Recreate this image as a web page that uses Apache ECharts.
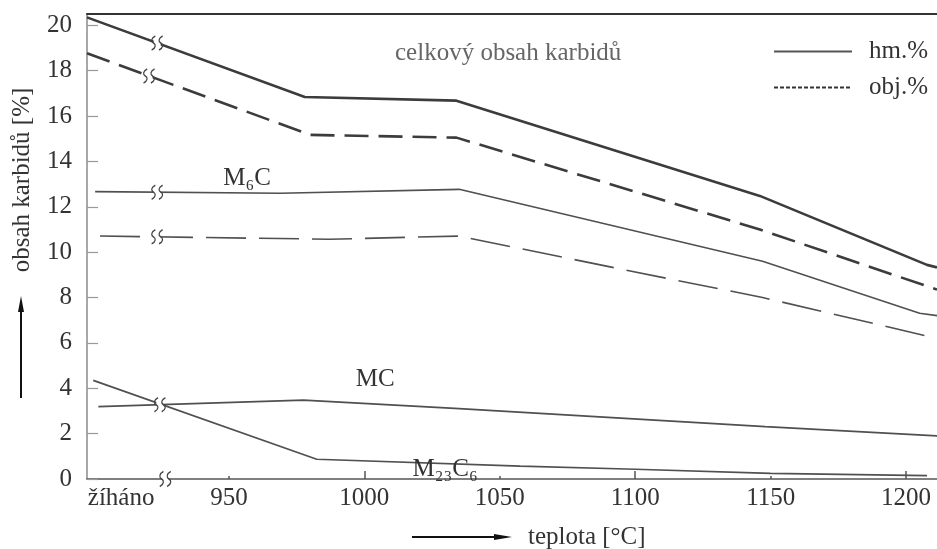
<!DOCTYPE html>
<html>
<head>
<meta charset="utf-8">
<script src="https://cdn.jsdelivr.net/npm/echarts@6/dist/echarts.min.js"></script>
<style>html,body{margin:0;padding:0;background:#fff}#c{width:937px;height:549px}</style>
</head>
<body>
<div id="c"></div>
<script>
// ---- data (x = temperature °C, "žíháno" = annealed state at left) ----
const totalHm  = [[897.6,20.35],[978,16.84],[1034,16.68],[1146,12.48],[1207.7,9.44],[1211.4,9.33]];
const totalObj = [[897.6,18.77],[980,15.17],[1034,15.05],[1146,11.0],[1211.4,8.35]];
const m6cHm    = [[900.6,12.67],[969,12.6],[1035,12.77],[1147,9.6],[1205,7.31],[1211.4,7.2]];
const m6cObj   = [[902.4,10.71],[987,10.57],[1035,10.71],[1094,9.27],[1147,8.0],[1211.4,6.2]];
const mcHm     = [[901.8,3.19],[977.5,3.48],[1035,3.1],[1148,2.31],[1211.4,1.9]];
const m23c6Hm  = [[899.9,4.35],[982.4,0.87],[1057.5,0.57],[1100,0.43],[1150,0.25],[1207.7,0.15]];

const xTickValues = [950, 1000, 1050, 1100, 1150, 1200];
const xMajorTicks = [1000, 1100, 1200];
const xMinorTicks = [950, 1050, 1150];
const annealedLabel = 'žíháno';
const annealedLabelPos = 910.2;
const yTicks = [0, 2, 4, 6, 8, 10, 12, 14, 16, 18, 20];
const breakX = 923.5;

const seriesLabels = { m6c: 'M₆C', mc: 'MC', m23c6: 'M₂₃C₆' };
const titleText = 'celkový obsah karbidů';
const yName = 'obsah karbidů [%]';
const xName = 'teplota [°C]';
const legendNames = ['hm.%', 'obj.%'];

// ---- helpers ----
function interp(arr, x) {
  for (let i = 0; i < arr.length - 1; i++) {
    const a = arr[i], b = arr[i + 1];
    if (x >= a[0] && x <= b[0]) return a[1] + (b[1] - a[1]) * (x - a[0]) / (b[0] - a[0]);
  }
  return arr[0][1];
}
const FONT = 'Liberation Serif, Times New Roman, serif';
const breakPath = 'path://M3.5,0 C0.5,1.5 0.5,4 2.2,5 C4,6 4,8.5 1,10 M8.5,0 C5.5,1.5 5.5,4 7.2,5 C9,6 9,8.5 6,10';
function breakMarks(arr, xv) {
  const y = interp(arr, xv);
  return [
    { coord: [xv, y], symbol: 'rect', symbolSize: [7, 9], itemStyle: { color: '#fff', borderWidth: 0 } },
    { coord: [xv, y], symbol: breakPath, symbolSize: [11, 14], itemStyle: { color: 'rgba(0,0,0,0)', borderColor: '#444', borderWidth: 1.4 } }
  ];
}
function mk(data) {
  return { silent: true, animation: false, label: { show: false }, data: data };
}
function labelMark(coord, text) {
  return {
    coord: coord, symbol: 'circle', symbolSize: 0,
    label: { show: true, position: 'inside', formatter: text, fontFamily: FONT, fontSize: 25, color: '#333' }
  };
}

const chart = echarts.init(document.getElementById('c'), null, { renderer: 'canvas' });
const base = { type: 'line', symbol: 'none', showSymbol: false, smooth: false, xAxisIndex: 0, yAxisIndex: 0, animation: false, silent: true };

chart.setOption({
  animation: false,
  backgroundColor: '#fff',
  title: {
    text: titleText, left: 390, top: 36,
    textStyle: { fontFamily: FONT, fontSize: 25, fontWeight: 'normal', color: '#666' }
  },
  legend: {
    data: legendNames, orient: 'vertical', left: 768, top: 34,
    itemWidth: 78, itemHeight: 14, itemGap: 11,
    itemStyle: { color: 'rgba(0,0,0,0)', borderColor: 'rgba(0,0,0,0)', borderWidth: 0, opacity: 0 },
    textStyle: { fontFamily: FONT, fontSize: 25, color: '#333', padding: [0, 0, 0, 12] }
  },
  grid: { left: 87, right: 0, top: 14, bottom: 70, containLabel: false },
  xAxis: [
    {
      type: 'value', min: 897.6, max: 1211.4, position: 'bottom',
      axisLine: { show: true, onZero: false, lineStyle: { color: '#555', width: 1.5 } },
      axisTick: { show: true, inside: true, length: 8, customValues: xMajorTicks, lineStyle: { color: '#555', width: 1.5 } },
      axisLabel: {
        show: true, margin: 7, customValues: [annealedLabelPos].concat(xTickValues),
        formatter: v => (v < 940 ? annealedLabel : String(Math.round(v))),
        fontFamily: FONT, fontSize: 25, color: '#333'
      },
      splitLine: { show: false }
    },
    {
      type: 'value', min: 897.6, max: 1211.4, position: 'bottom',
      axisLine: { show: false },
      axisTick: { show: true, inside: true, length: 3, customValues: xMinorTicks, lineStyle: { color: '#555', width: 1.5 } },
      axisLabel: { show: false },
      splitLine: { show: false }
    },
    {
      type: 'value', min: 897.6, max: 1211.4, position: 'top',
      axisLine: { show: true, onZero: false, lineStyle: { color: '#333', width: 2 } },
      axisTick: { show: false }, axisLabel: { show: false }, splitLine: { show: false }
    }
  ],
  yAxis: {
    type: 'value', min: 0, max: 20.5,
    axisLine: { show: true, onZero: false, lineStyle: { color: '#8a8a8a', width: 1.5 } },
    axisTick: { show: true, inside: true, length: 11, customValues: yTicks, lineStyle: { color: '#999', width: 1.2 } },
    axisLabel: { show: true, margin: 15, customValues: yTicks, fontFamily: FONT, fontSize: 25, color: '#333' },
    splitLine: { show: false }
  },
  series: [
    Object.assign({}, base, { name: 'total hm', data: totalHm, lineStyle: { color: '#3c3c3c', width: 2.6 },
      markPoint: mk(breakMarks(totalHm, breakX)) }),
    Object.assign({}, base, { name: 'total obj', data: totalObj, lineStyle: { color: '#3c3c3c', width: 2.6, type: [24, 10] },
      markPoint: mk(breakMarks(totalObj, breakX - 3)) }),
    Object.assign({}, base, { name: 'M6C hm', data: m6cHm, lineStyle: { color: '#505050', width: 1.6 },
      markPoint: mk(breakMarks(m6cHm, breakX).concat([labelMark([956.7, 13.27], seriesLabels.m6c)])) }),
    Object.assign({}, base, { name: 'M6C obj', data: m6cObj, lineStyle: { color: '#505050', width: 1.6, type: [40, 13] },
      markPoint: mk(breakMarks(m6cObj, breakX)) }),
    Object.assign({}, base, { name: 'MC hm', data: mcHm, lineStyle: { color: '#505050', width: 1.7 },
      markPoint: mk(breakMarks(mcHm, breakX + 1).concat([labelMark([1004, 4.37], seriesLabels.mc)])) }),
    Object.assign({}, base, { name: 'M23C6 hm', data: m23c6Hm, lineStyle: { color: '#505050', width: 1.7 },
      markPoint: mk([
        { coord: [breakX + 3, 0], symbol: 'rect', symbolSize: [7, 5], itemStyle: { color: '#fff', borderWidth: 0 } },
        { coord: [breakX + 3, 0], symbol: breakPath, symbolSize: [11, 15], itemStyle: { color: 'rgba(0,0,0,0)', borderColor: '#444', borderWidth: 1.4 } },
        labelMark([1029.8, 0.4], seriesLabels.m23c6)
      ]) }),
    Object.assign({}, base, { name: legendNames[0], data: [], color: '#555', lineStyle: { color: '#555', width: 1.2 } }),
    Object.assign({}, base, { name: legendNames[1], data: [], color: '#333', lineStyle: { color: '#333', width: 1.5, type: [4, 2] } })
  ],
  graphic: [
    { type: 'text', x: 22, y: 180, rotation: Math.PI / 2, silent: true,
      style: { text: yName, font: '25px ' + FONT, fill: '#333', align: 'center', verticalAlign: 'middle' } },
    { type: 'line', silent: true, shape: { x1: 21, y1: 398, x2: 21, y2: 306 }, style: { stroke: '#111', lineWidth: 2 } },
    { type: 'polygon', silent: true, shape: { points: [[21, 296], [18, 312], [24, 312]] }, style: { fill: '#111' } },
    { type: 'line', silent: true, shape: { x1: 412, y1: 537, x2: 498, y2: 537 }, style: { stroke: '#111', lineWidth: 2 } },
    { type: 'polygon', silent: true, shape: { points: [[512, 537], [494, 534], [494, 540]] }, style: { fill: '#111' } },
    { type: 'text', x: 528, y: 537, silent: true,
      style: { text: xName, font: '25px ' + FONT, fill: '#333', align: 'left', verticalAlign: 'middle' } }
  ]
});
</script>
</body>
</html>
